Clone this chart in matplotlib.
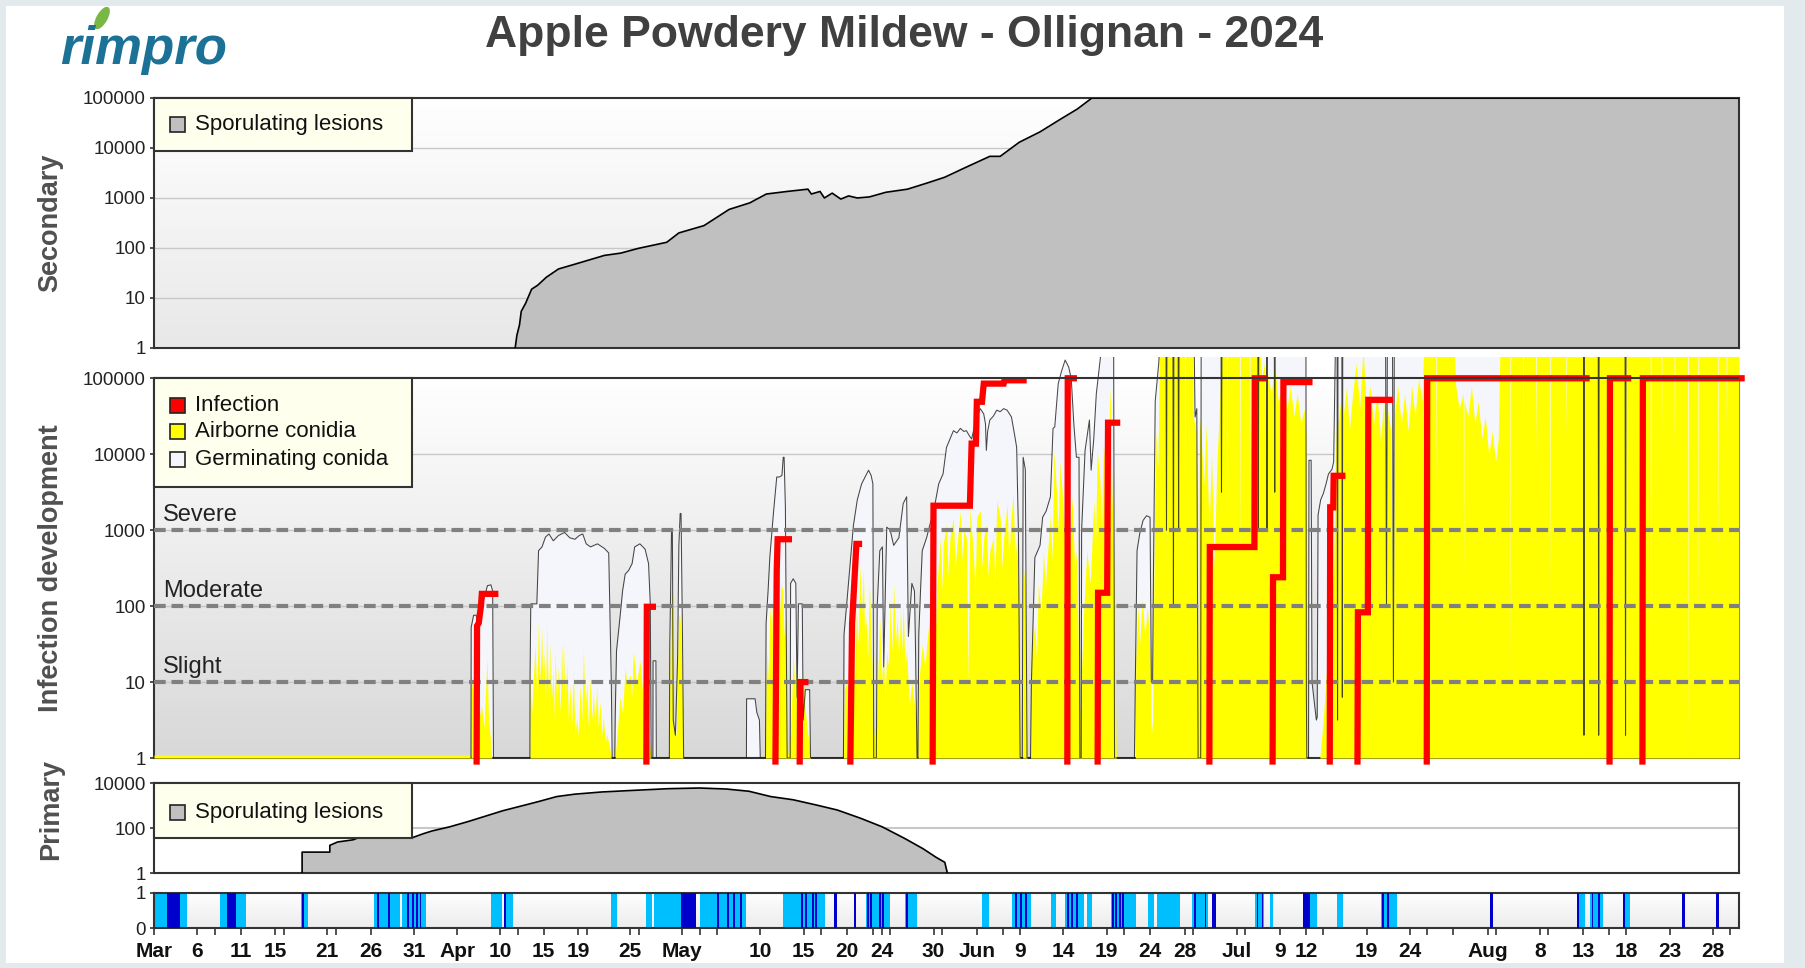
import numpy as np
import matplotlib.pyplot as plt
import matplotlib.colors as mcolors
from matplotlib.patches import Rectangle, Ellipse
from matplotlib.ticker import NullLocator

plt.rcParams['font.family'] = ['Liberation Sans', 'DejaVu Sans']

# x axis: days since 1 March 2024
x_end = 183

# secondary sporulating lesions (day, count)
sec_day = [41.7, 41.9, 42.2, 42.4, 42.9, 43.6, 44.3, 45.3, 46.7, 48.7, 52.0, 53.9, 55.9, 59.2,
           60.6, 63.5, 66.4, 68.8, 70.7, 73.1, 75.5, 75.9, 76.9, 77.4, 78.3, 79.3, 80.2, 81.2,
           82.6, 84.5, 87.0, 89.3, 91.3, 93.6, 96.5, 97.7, 99.9, 102.3, 104.7, 106.6, 108.3, 183]
sec_val = [1, 1.8, 2.9, 5.4, 7.8, 15, 18, 26, 38, 48, 71, 79, 98, 130,
           200, 280, 590, 800, 1200, 1350, 1500, 1200, 1350, 1000, 1250, 950, 1100, 1000,
           1050, 1300, 1500, 2000, 2600, 4000, 6800, 6800, 13000, 21000, 38000, 60000, 100000, 100000]

# primary sporulating lesions (day, count)
pri_day = [17.1, 17.1, 20.3, 20.3, 21.2, 23.0, 23.6, 25.9, 29.8, 31.1, 32.1, 34.1, 36.2, 38.3,
           40.3, 42.4, 44.4, 46.5, 48.6, 51.7, 55.3, 59.4, 63.0, 66.1, 68.7, 71.2, 73.8, 76.4,
           78.9, 81.6, 84.1, 86.7, 88.8, 90.3, 91.3, 91.6]
pri_val = [1, 8.5, 8.5, 17, 24, 30, 37, 37, 37, 56, 74, 112, 190, 340,
           590, 950, 1500, 2500, 3200, 4000, 4700, 5600, 6000, 5400, 4300, 2500, 1800, 1070,
           630, 270, 112, 34, 12, 5, 3, 1]

# germinating conidia (day, log10 count)
germ_log10 = [
    (36.6, 0), (36.62, 1.72), (36.9, 1.88), (37.2, 1.88), (37.4, 1.75), (37.9, 2.0), (38.1, 2.1),
    (38.5, 2.27), (38.9, 2.28), (39.1, 2.2), (39.2, 0),
    (43.4, 0), (43.42, 1.06), (43.5, 2.03), (44.2, 2.03), (44.4, 2.73), (44.8, 2.78), (45.2, 2.91),
    (45.6, 2.95), (46.1, 2.86), (46.7, 2.93), (47.4, 2.97), (48.0, 2.9), (48.6, 2.88), (49.1, 2.93),
    (49.5, 2.95), (49.9, 2.82), (50.4, 2.78), (51.2, 2.82), (52.0, 2.76), (52.5, 2.7), (52.8, 1.0), (52.9, 0),
    (53.2, 0), (53.25, 0.54), (53.4, 1.41), (53.8, 1.85), (54.1, 2.2), (54.4, 2.42), (54.8, 2.47),
    (55.2, 2.56), (55.5, 2.78), (56.1, 2.82), (56.7, 2.75), (57.1, 2.56), (57.3, 2.03), (57.4, 0),
    (57.6, 0), (57.62, 1.28), (57.95, 1.28), (58.0, 0),
    (59.5, 0), (59.55, 1.5), (59.65, 2.2), (59.75, 3.0), (59.85, 3.0), (59.95, 0.5), (60.2, 0.3),
    (60.45, 1.3), (60.6, 2.8), (60.75, 3.22), (60.85, 3.22), (61.0, 1.8), (61.15, 0),
    (68.4, 0), (68.42, 0.78), (69.4, 0.78), (69.6, 0.6), (69.9, 0.5), (70.0, 0),
    (70.6, 0), (70.67, 1.77), (70.9, 2.2), (71.1, 2.64), (71.5, 3.2), (71.9, 3.7), (72.2, 3.7),
    (72.5, 3.72), (72.65, 3.96), (72.75, 3.96), (72.9, 3.3), (73.1, 0),
    (73.45, 0), (73.5, 2.3), (73.8, 2.36), (74.1, 2.3), (74.25, 0.8), (74.4, 2.03), (74.85, 2.03),
    (74.95, 0.5), (75.2, 0.9), (75.7, 0.9), (75.8, 0),
    (79.6, 0), (79.67, 1.63), (79.98, 2.03), (80.4, 2.6), (80.75, 3.06), (81.2, 3.4), (81.7, 3.61),
    (82.1, 3.7), (82.5, 3.79), (82.8, 3.72), (83.0, 3.61), (83.1, 0),
    (83.4, 0), (83.5, 2.0), (83.8, 2.73), (84.1, 2.78), (84.25, 1.2), (84.6, 3.04), (85.0, 3.0),
    (85.4, 2.8), (86.0, 2.9), (86.5, 3.35), (86.9, 3.44), (87.1, 1.6), (87.5, 2.3), (87.8, 2.2),
    (87.9, 1.6), (88.1, 0),
    (88.2, 0), (88.3, 1.63), (88.5, 2.2), (88.7, 2.73), (89.2, 2.9), (89.6, 3.08), (90.1, 3.3),
    (90.6, 3.61), (91.1, 3.74), (91.5, 4.09), (91.9, 4.2), (92.3, 4.31), (92.7, 4.28), (93.1, 4.34),
    (93.5, 4.3), (93.8, 4.31), (94.1, 4.25), (94.4, 4.2), (94.7, 4.35), (95.0, 4.49), (95.4, 4.6),
    (95.8, 4.53), (96.0, 4.4), (96.1, 4.05), (96.25, 4.3), (96.5, 4.45), (96.9, 4.5), (97.3, 4.58),
    (97.7, 4.56), (98.1, 4.6), (98.5, 4.58), (99.0, 4.49), (99.4, 4.23), (99.6, 4.09), (99.8, 3.0), (100.0, 0),
    (100.25, 0), (100.35, 3.96), (100.6, 3.8), (100.8, 0),
    (101.2, 0), (101.3, 0.98), (101.7, 2.64), (102.3, 2.8), (102.6, 3.17), (103.0, 3.25), (103.5, 3.44),
    (103.8, 4.34), (104.0, 4.36), (104.4, 4.93), (104.8, 5.1), (105.2, 5.24), (105.6, 5.15), (105.9, 5.0),
    (106.2, 4.4), (106.5, 3.96), (106.8, 3.96), (106.9, 0),
    (107.05, 0), (107.1, 3.0), (107.5, 4.05), (108.0, 4.45), (108.2, 3.79), (108.5, 4.2), (108.8, 4.8),
    (109.1, 5.1), (109.4, 5.4), (110.8, 5.4), (110.9, 0),
    (113.2, 0), (113.3, 1.0), (113.5, 2.73), (113.8, 2.95), (114.2, 3.13), (114.6, 3.19), (115.0, 3.17),
    (115.15, 1.0), (115.3, 1.0), (115.4, 2.5), (115.6, 4.7), (116.0, 5.19), (116.1, 5.4),
    (116.85, 5.4), (116.9, 3.0), (116.95, 5.4), (117.65, 5.4), (117.7, 2.0), (117.75, 5.4),
    (118.25, 5.4), (118.3, 3.0), (118.35, 5.4), (120.1, 5.4), (120.2, 4.49), (120.4, 4.6), (120.55, 0),
    (120.85, 0), (120.9, 5.4), (123.2, 5.4), (123.25, 3.5), (123.3, 5.4), (127.45, 5.4), (127.5, 3.0),
    (127.55, 5.4), (128.45, 5.4), (128.5, 3.0), (128.55, 5.4), (129.35, 5.4), (129.4, 3.5), (129.45, 5.4),
    (133.0, 5.4), (133.05, 0.84), (133.1, 0),
    (133.3, 0), (133.35, 3.92), (133.6, 3.92), (133.7, 1.0), (134.2, 0.5), (134.3, 0.54), (134.4, 3.2),
    (134.7, 3.4), (135.0, 3.48), (135.3, 3.6), (135.6, 3.74), (136.0, 3.8), (136.2, 3.9), (136.4, 5.4),
    (136.6, 5.4), (136.65, 0.5), (136.7, 5.4), (137.15, 5.4), (137.2, 0.8), (137.25, 5.4),
    (142.2, 5.4), (142.3, 2.0), (142.4, 5.4), (143.0, 5.4), (143.1, 1.0), (143.2, 5.4),
    (165.05, 5.4), (165.1, 0.3), (165.15, 5.4), (166.75, 5.4), (166.8, 0.3), (166.85, 5.4),
    (169.85, 5.4), (169.9, 0.3), (169.95, 5.4), (183.0, 5.4),
]

# airborne conidia (day, log10 count)
airborne_log10 = [
    (0, 0.04), (36.5, 0.04), (36.6, 0), (36.62, 1.06), (36.8, 0.9), (37.0, 0.6), (37.2, 0.9), (37.5, 0.5),
    (37.8, 0.7), (38.1, 0.4), (38.45, 1.33), (38.6, 0.6), (38.8, 0.3), (39.0, 0),
    (43.4, 0), (43.42, 1.06), (43.6, 0.6), (43.99, 1.5), (44.2, 0.8), (44.38, 1.8), (44.57, 1.0),
    (44.76, 1.7), (44.9, 0.9), (45.0, 1.4), (45.2, 0.7), (45.34, 1.8), (45.45, 0.9), (45.54, 1.3),
    (45.65, 0.6), (45.73, 1.54), (45.9, 0.8), (46.11, 1.15), (46.2, 0.5), (46.31, 1.4), (46.5, 0.7),
    (46.69, 1.2), (46.9, 0.6), (47.08, 1.5), (47.18, 0.8), (47.27, 1.54), (47.45, 0.7), (47.66, 1.24),
    (47.85, 0.5), (48.04, 0.97), (48.2, 0.4), (48.42, 1.15), (48.6, 0.3), (48.81, 0.54), (49.0, 0.3),
    (49.19, 0.97), (49.4, 0.5), (49.58, 1.46), (49.75, 0.6), (49.96, 0.97), (50.15, 0.4), (50.35, 1.06),
    (50.55, 0.5), (50.73, 0.88), (50.9, 0.4), (51.12, 0.97), (51.3, 0.4), (51.5, 0.75), (51.7, 0.3),
    (51.88, 0.54), (52.1, 0.2), (52.27, 0.32), (52.66, 0.1), (52.8, 0),
    (53.24, 0), (53.8, 0.8), (54.1, 0.6), (54.4, 1.2), (54.6, 0.97), (54.97, 1.1), (55.15, 0.8),
    (55.35, 1.41), (55.7, 0.97), (56.1, 1.28), (56.5, 0.75), (56.9, 0.54), (57.3, 0.1), (57.4, 0),
    (59.5, 0), (59.55, 1.0), (59.7, 2.25), (59.9, 2.0), (60.0, 0.4), (60.3, 0.3), (60.55, 1.85),
    (60.7, 1.9), (60.9, 1.5), (61.1, 0),
    (70.6, 0), (70.65, 1.0), (70.8, 1.41), (70.95, 1.0), (71.1, 2.0), (71.3, 1.6), (71.5, 2.47),
    (71.65, 1.8), (71.8, 2.2), (71.95, 1.7), (72.1, 2.52), (72.25, 1.9), (72.4, 2.3), (72.6, 2.2),
    (72.75, 1.6), (72.9, 1.85), (73.1, 0),
    (73.5, 0.3), (73.8, 1.41), (74.0, 0.8), (74.1, 1.15), (74.3, 0.6), (74.5, 1.15), (74.7, 0.7),
    (74.9, 1.15), (75.2, 0.62), (75.8, 0),
    (79.6, 0), (79.7, 0.9), (80.0, 1.0), (80.2, 0.6), (80.4, 1.2), (80.75, 1.41), (80.9, 0.9),
    (81.1, 2.0), (81.3, 1.5), (81.5, 2.56), (81.7, 1.9), (81.9, 2.5), (82.05, 1.6), (82.2, 1.85),
    (82.4, 1.3), (82.6, 2.3), (82.9, 1.2), (83.1, 0.3),
    (83.4, 0.4), (83.6, 1.2), (83.8, 1.85), (84.0, 1.0), (84.2, 1.4), (84.4, 0.8), (84.6, 1.41),
    (84.8, 1.2), (85.0, 2.1), (85.2, 1.4), (85.4, 2.3), (85.6, 1.5), (85.8, 1.85), (86.0, 1.3),
    (86.2, 2.0), (86.35, 1.4), (86.5, 2.03), (86.7, 1.2), (86.9, 1.41), (87.2, 0.7), (87.5, 1.0),
    (88.0, 0.5), (88.1, 0),
    (88.2, 0), (88.3, 1.0), (88.7, 1.5), (89.0, 1.2), (89.3, 1.6), (89.6, 1.9), (90.0, 2.1), (90.2, 1.6),
    (90.4, 2.3), (90.8, 2.9), (91.0, 2.2), (91.1, 2.8), (91.5, 3.08), (91.7, 2.4), (91.9, 2.9),
    (92.3, 3.17), (92.5, 2.5), (92.7, 2.8), (93.1, 3.26), (93.3, 2.6), (93.5, 3.0), (93.8, 2.9),
    (94.0, 1.0), (94.2, 3.3), (94.6, 2.7), (94.8, 2.2), (95.0, 3.17), (95.4, 3.26), (95.6, 2.5),
    (95.8, 2.9), (96.1, 3.08), (96.3, 2.4), (96.5, 2.73), (96.9, 2.9), (97.1, 2.3), (97.3, 3.39),
    (97.7, 3.17), (97.9, 2.5), (98.1, 2.9), (98.5, 3.35), (98.7, 2.6), (98.9, 3.08), (99.2, 3.5),
    (99.4, 2.6), (99.6, 2.9), (99.85, 2.0), (100.0, 0),
    (100.3, 0), (100.4, 2.5), (100.6, 2.2), (100.8, 0),
    (101.2, 0), (101.3, 1.41), (101.7, 1.76), (101.9, 1.3), (102.1, 2.3), (102.4, 1.9), (102.7, 2.73),
    (102.9, 2.2), (103.1, 2.6), (103.5, 3.2), (103.7, 2.6), (103.9, 4.05), (104.2, 3.5), (104.4, 3.0),
    (104.6, 3.9), (104.8, 3.6), (105.1, 3.0), (105.4, 3.44), (105.7, 2.8), (106.0, 3.44), (106.3, 2.5),
    (106.5, 2.73), (106.9, 0.5), (107.3, 1.85), (107.7, 2.73), (108.1, 2.3), (108.5, 3.39), (108.7, 2.8),
    (108.9, 4.05), (109.2, 3.7), (109.4, 3.0), (109.6, 4.14), (110.0, 3.6), (110.4, 4.88), (110.6, 3.5),
    (110.8, 2.73), (111.1, 0),
    (113.3, 0), (113.35, 1.3), (113.6, 2.0), (113.8, 1.5), (114.1, 2.1), (114.4, 1.6), (114.7, 2.0),
    (115.0, 1.4), (115.15, 0.3), (115.3, 0.5), (115.5, 3.0), (115.7, 4.3), (115.9, 3.8), (116.1, 5.4),
    (116.85, 5.4), (116.9, 2.5), (116.95, 5.4), (117.65, 5.4), (117.7, 3.0), (117.75, 5.4),
    (118.25, 5.4), (118.3, 2.8), (118.35, 5.4), (119.0, 5.4), (119.05, 3.5), (119.1, 5.4),
    (119.9, 5.4), (120.0, 4.5), (120.3, 4.3), (120.55, 1.0), (120.7, 4.5), (120.9, 4.2), (121.2, 3.6),
    (121.5, 4.4), (121.8, 3.0), (122.1, 4.0), (122.4, 2.5), (122.7, 3.8), (123.0, 4.6), (123.3, 5.4),
    (123.85, 5.4), (123.9, 3.0), (123.95, 5.4), (125.35, 5.4), (125.4, 2.5), (125.45, 5.4),
    (126.45, 5.4), (126.5, 3.5), (126.55, 5.4), (127.7, 5.4), (127.9, 5.0), (128.2, 5.2), (128.45, 4.0),
    (128.5, 5.1), (129.0, 4.8), (129.4, 5.2), (129.8, 4.7), (130.4, 4.9), (130.8, 4.6), (131.2, 4.9),
    (131.6, 4.5), (132.0, 4.8), (132.4, 4.4), (132.8, 4.6), (133.0, 4.27), (133.1, 0),
    (134.6, 0), (135.0, 0.5), (135.4, 1.2), (135.8, 1.8), (136.2, 2.5), (136.4, 4.0), (136.6, 4.6),
    (136.65, 0.5), (136.7, 4.4), (137.0, 4.7), (137.2, 0.8), (137.3, 4.5), (137.7, 4.9), (138.0, 4.3),
    (138.4, 4.8), (138.8, 5.2), (139.2, 4.6), (139.6, 5.4), (140.0, 4.5), (140.4, 4.9), (140.8, 4.4),
    (141.2, 4.8), (141.6, 4.2), (142.0, 4.7), (142.3, 2.0), (142.4, 4.6), (142.8, 4.3), (143.1, 1.0),
    (143.2, 4.5), (143.6, 4.9), (144.0, 4.4), (144.4, 4.8), (144.8, 4.3), (145.2, 4.9), (145.6, 4.5),
    (146.0, 5.0), (146.4, 4.7), (146.6, 5.4), (147.95, 5.4), (148.0, 3.5), (148.05, 5.4),
    (150.1, 5.4), (150.3, 4.9), (150.7, 4.6), (151.15, 4.8), (151.2, 2.34), (151.25, 4.7), (151.7, 4.5),
    (152.1, 4.9), (152.5, 4.4), (152.9, 4.7), (153.3, 4.2), (153.7, 4.5), (154.1, 4.0), (154.5, 4.3),
    (154.9, 3.9), (155.2, 4.2), (155.4, 5.4), (156.55, 5.4), (156.6, 1.0), (156.65, 5.4),
    (158.0, 5.4), (158.05, 4.3), (158.1, 5.4), (159.5, 5.4), (159.55, 4.0), (159.6, 5.4),
    (161.15, 5.4), (161.2, 2.0), (161.25, 5.4), (163.0, 5.4), (163.05, 4.2), (163.1, 5.4),
    (165.05, 5.4), (165.1, 0), (165.15, 5.4), (166.75, 5.4), (166.8, 0), (166.85, 5.4),
    (169.85, 5.4), (169.9, 0), (169.95, 5.4), (172.75, 5.4), (172.8, 0.3), (172.85, 5.4),
    (174.0, 5.4), (174.05, 4.2), (174.1, 5.4), (175.5, 5.4), (175.55, 4.0), (175.6, 5.4),
    (177.05, 5.4), (177.1, 0), (177.15, 5.4), (178.25, 5.4), (178.3, 1.8), (178.35, 5.4),
    (180.55, 5.4), (180.6, 2.5), (180.65, 5.4), (181.5, 5.4), (181.55, 4.3), (181.6, 5.4), (183.0, 5.4),
]

# infection events (day list, count list)
infection_days = [
    [37.25, 37.3, 37.5, 37.6, 37.75, 37.85, 39.4],
    [56.85, 56.9, 57.6],
    [71.75, 71.9, 72.0, 73.3],
    [74.55, 74.6, 75.2],
    [80.4, 80.6, 81.1, 81.4],
    [89.9, 90.0, 94.2, 94.4, 94.9, 95.0, 95.6, 95.8, 98.1, 98.2, 100.4],
    [105.45, 105.5, 106.2],
    [108.95, 109.0, 110.05, 110.15, 111.2],
    [121.85, 121.9, 127.05, 127.1, 128.1],
    [129.15, 129.2, 130.35, 130.4, 133.4],
    [135.75, 135.8, 136.15, 136.2, 137.2],
    [138.95, 139.0, 140.15, 140.2, 142.7],
    [146.95, 147.0, 165.4],
    [168.05, 168.1, 170.2],
    [171.85, 171.9, 183.3],
]
infection_vals = [
    [0.9, 55, 60, 75, 100, 145, 145],
    [0.9, 98, 98],
    [0.9, 300, 760, 760],
    [0.9, 10, 10],
    [0.9, 60, 660, 660],
    [0.9, 2100, 2100, 13800, 13800, 49000, 49000, 85000, 85000, 94000, 94000],
    [0.9, 100000, 100000],
    [0.9, 150, 150, 26000, 26000],
    [0.9, 600, 600, 100000, 100000],
    [0.9, 240, 240, 89000, 89000],
    [0.9, 2000, 2000, 5200, 5200],
    [0.9, 83, 83, 52000, 52000],
    [0.9, 100000, 100000],
    [0.9, 100000, 100000],
    [0.9, 100000, 100000],
]

thresholds = [10, 100, 1000]
threshold_names = ['Slight', 'Moderate', 'Severe']

# leaf wetness / rain periods (start day, end day)
wet_light = [(0.0, 3.8), (7.6, 10.6), (17.0, 17.8), (25.4, 28.4), (28.6, 31.4), (38.9, 40.2),
             (40.4, 41.5), (52.8, 53.5), (56.8, 57.5), (57.7, 62.6), (63.0, 68.4), (72.6, 77.5),
             (78.5, 78.9), (80.8, 81.1), (82.2, 85.0), (86.7, 88.1), (95.6, 96.4), (99.1, 101.3),
             (103.6, 104.2), (105.2, 107.4), (107.7, 108.3), (110.5, 113.4), (114.8, 115.4),
             (115.8, 118.5), (119.9, 121.7), (122.1, 122.6), (127.1, 128.2), (128.9, 129.2),
             (132.7, 134.3), (136.6, 137.3), (141.7, 143.5), (154.3, 154.6), (164.3, 165.2),
             (165.8, 167.3), (169.6, 170.4), (176.4, 176.8), (180.3, 180.7)]
wet_dark = [(1.5, 3.0), (8.4, 9.5), (17.1, 17.3), (25.8, 26.0), (27.0, 27.2), (29.2, 29.4),
            (29.8, 30.0), (30.3, 30.5), (30.7, 30.8), (40.4, 40.6), (60.9, 62.6), (65.0, 65.2),
            (66.2, 66.4), (66.9, 67.1), (67.7, 67.9), (74.7, 74.9), (75.2, 75.4), (76.0, 76.2),
            (76.3, 76.5), (78.5, 78.9), (80.8, 81.1), (82.3, 82.5), (82.7, 82.9), (83.7, 83.9),
            (84.1, 84.3), (86.8, 87.0), (99.4, 99.6), (100.0, 100.2), (100.6, 100.8), (105.4, 105.6),
            (105.9, 106.1), (106.5, 106.7), (110.6, 110.8), (111.0, 111.2), (111.4, 111.6),
            (111.8, 112.0), (120.1, 120.3), (121.3, 121.5), (122.1, 122.6), (127.3, 127.5),
            (127.9, 128.1), (132.7, 133.5), (141.8, 142.0), (142.4, 142.6), (154.3, 154.6),
            (164.3, 164.5), (166.0, 166.2), (166.7, 166.9), (169.6, 169.8), (176.4, 176.8), (180.3, 180.7)]

# date axis
xt_major = [0, 5, 10, 14, 20, 25, 30, 35, 40, 45, 49, 55, 61, 70, 75, 80, 84, 90, 95, 100, 105,
            110, 115, 119, 125, 130, 133, 140, 145, 154, 160, 165, 170, 175, 180]
xt_labels = ['Mar', '6', '11', '15', '21', '26', '31', 'Apr', '10', '15', '19', '25', 'May', '10',
             '15', '20', '24', '30', 'Jun', '9', '14', '19', '24', '28', 'Jul', '9', '12', '19', '24',
             'Aug', '8', '13', '18', '23', '28']
xt_minor = [7, 15, 21, 42, 50, 56, 63, 65, 77, 83, 85, 91, 98, 112, 120, 126, 135, 147, 150, 155,
            161, 168, 182]

GERM = '#f5f6fc'
YELLOW = '#ffff00'
GRAYFILL = '#c0c0c0'
CREAM = '#ffffee'
SPINE = '#333333'
LABEL = '#505050'

fig = plt.figure(figsize=(18.06, 9.68), dpi=100)
fig.patch.set_facecolor('#e3eaee')
fig.add_artist(Rectangle((6 / 1806, 5 / 968), 1778 / 1806, 957 / 968, transform=fig.transFigure,
                         facecolor='white', edgecolor='none', zorder=-5))

L, W = 154 / 1806, 1585 / 1806


def gradient(rect, top, bottom):
    bg = fig.add_axes(rect, zorder=0)
    t = np.linspace(0, 1, 200)[:, None, None]
    c0 = np.array(mcolors.to_rgb(top))
    c1 = np.array(mcolors.to_rgb(bottom))
    img = c0 * (1 - t) + c1 * t
    bg.imshow(img, aspect='auto', extent=[0, 1, 0, 1], interpolation='bilinear')
    bg.set_axis_off()


def panel(rect):
    ax = fig.add_axes(rect, zorder=1)
    ax.patch.set_visible(False)
    for s in ax.spines.values():
        s.set_color(SPINE)
        s.set_linewidth(1.5)
    ax.set_xlim(0, x_end)
    ax.tick_params(axis='y', length=3, width=1.2, pad=3, labelsize=13.5, color=SPINE, labelcolor='#222222')
    ax.tick_params(axis='x', which='both', bottom=False, labelbottom=False)
    return ax


def legend_box(ax, y0, y1, entries, hpx):
    ax.add_patch(Rectangle((0, y0), 0.163, y1 - y0, transform=ax.transAxes, facecolor=CREAM,
                           edgecolor=SPINE, lw=1.5, zorder=10, clip_on=False))
    h = 15 / hpx
    for y, col, lab in entries:
        ax.add_patch(Rectangle((0.0101, y - h / 2), 0.0095, h, transform=ax.transAxes, facecolor=col,
                               edgecolor='#222222', lw=1.2, zorder=11, clip_on=False))
        ax.text(0.026, y, lab, transform=ax.transAxes, fontsize=16, va='center', ha='left',
                color='#111111', zorder=12)


dec_ticks = [1, 10, 100, 1000, 10000, 100000]
dec_labels = ['1', '10', '100', '1000', '10000', '100000']

# ---- secondary ----
r1 = [L, 0.6405, W, 0.2583]
gradient(r1, '#ffffff', '#e8e8e8')
ax1 = panel(r1)
ax1.set_yscale('log')
ax1.set_ylim(1, 1e5)
ax1.set_yticks(dec_ticks)
ax1.set_yticklabels(dec_labels)
ax1.yaxis.set_minor_locator(NullLocator())
for v in [10, 100, 1000, 10000]:
    ax1.axhline(v, color='#c8c8c8', lw=1, zorder=1)
ax1.fill_between(sec_day, 1, sec_val, color=GRAYFILL, lw=0, zorder=2)
ax1.plot(sec_day, sec_val, color='black', lw=1.2, zorder=3)
legend_box(ax1, 0.788, 1.0, [(0.894, GRAYFILL, 'Sporulating lesions')], 250)
ax1.set_ylabel('Secondary', fontsize=19.5, fontweight='bold', color=LABEL)
ax1.yaxis.set_label_coords(-0.057, 0.5)

# ---- infection development ----
top5 = 10 ** 5.28
r2 = [L, 0.2169, W, 0.4143]
gradient([L, 0.2169, W, 0.3926], '#ffffff', '#d8d8d8')
ax2 = panel(r2)
ax2.set_yscale('log')
ax2.set_ylim(1, top5)
ax2.set_yticks(dec_ticks)
ax2.set_yticklabels(dec_labels)
ax2.yaxis.set_minor_locator(NullLocator())
ax2.spines['top'].set_visible(False)
ax2.spines['left'].set_bounds(1, 1e5)
ax2.spines['right'].set_bounds(1, 1e5)
ax2.axhline(1e5, color=SPINE, lw=1.5, zorder=7)
for v in [10, 100, 1000, 10000]:
    ax2.axhline(v, color='#c8c8c8', lw=1, zorder=1)

gd, gv = np.array(germ_log10).T
ad, av = np.array(airborne_log10).T
ax2.fill_between(gd, 1, 10 ** gv, color=GERM, lw=0, zorder=2)
ax2.fill_between(ad, 1, 10 ** av, color=YELLOW, lw=0, zorder=3)
ax2.plot(gd, 10 ** gv, color='#1a1a1a', lw=0.75, alpha=0.8, zorder=4)
for v, name in zip(thresholds, threshold_names):
    ax2.axhline(v, color='#808080', lw=3, dashes=(2.8, 1.4), zorder=5)
    ax2.text(1.0, v * 1.13, name, fontsize=17, color='#222222', va='bottom', ha='left', zorder=5)
for d, v in zip(infection_days, infection_vals):
    ax2.plot(d, v, color='#ff0000', lw=4.5, zorder=6, clip_on=False, solid_joinstyle='miter')
legend_box(ax2, 0.676, 0.947, [(0.8785, '#ff0000', 'Infection'), (0.813, YELLOW, 'Airborne conidia'),
                               (0.7456, GERM, 'Germinating conida')], 401)
ax2.set_ylabel('Infection development', fontsize=19.5, fontweight='bold', color=LABEL)
ax2.yaxis.set_label_coords(-0.057, 0.474)

# ---- primary ----
r3 = [L, 0.0981, W, 0.0930]
ax3 = panel(r3)
ax3.patch.set_visible(True)
ax3.patch.set_facecolor('white')
ax3.set_yscale('log')
ax3.set_ylim(1, 1e4)
ax3.set_yticks([1, 100, 10000])
ax3.set_yticklabels(['1', '100', '10000'])
ax3.yaxis.set_minor_locator(NullLocator())
ax3.axhline(100, color='#c8c8c8', lw=1.5, zorder=1)
ax3.fill_between(pri_day, 1, pri_val, color=GRAYFILL, lw=0, zorder=2)
ax3.plot(pri_day, pri_val, color='black', lw=1.2, zorder=3)
legend_box(ax3, 0.394, 1.0, [(0.678, GRAYFILL, 'Sporulating lesions')], 90)
ax3.set_ylabel('Primary', fontsize=19.5, fontweight='bold', color=LABEL)
ax3.yaxis.set_label_coords(-0.057, 0.71)

# ---- wetness ----
r4 = [L, 0.0413, W, 0.0362]
gradient(r4, '#ffffff', '#ececec')
ax4 = panel(r4)
ax4.set_ylim(0, 1)
ax4.set_yticks([0, 1])
ax4.set_yticklabels(['0', '1'])
for a, b in wet_light:
    ax4.axvspan(a, b, color='#00bfff', lw=0, zorder=2)
for a, b in wet_dark:
    ax4.axvspan(a, b, color='#0000cd', lw=0, zorder=3)
ax4.set_xticks(xt_major)
ax4.set_xticklabels(xt_labels, fontweight='bold', fontsize=15, color='#111111')
ax4.set_xticks(xt_minor, minor=True)
ax4.tick_params(axis='x', which='both', bottom=True, labelbottom=True, length=5, width=1.2,
                color=SPINE, pad=5)

# ---- title and logo ----
fig.text(0.5006, 0.963, 'Apple Powdery Mildew - Ollignan - 2024', ha='center', va='center',
         fontsize=32, fontweight='bold', color='#404040')
fig.text(60 / 1806, 1 - 64 / 968, 'rimpro', fontsize=38, fontweight='bold', style='italic',
         color='#1b7196', ha='left', va='baseline')
fig.add_artist(Ellipse((1.02, 9.68 - 0.18), 0.11, 0.25, angle=-30, transform=fig.dpi_scale_trans,
                       facecolor='#79b844', edgecolor='none'))

fig.savefig('out.png', dpi=100)
